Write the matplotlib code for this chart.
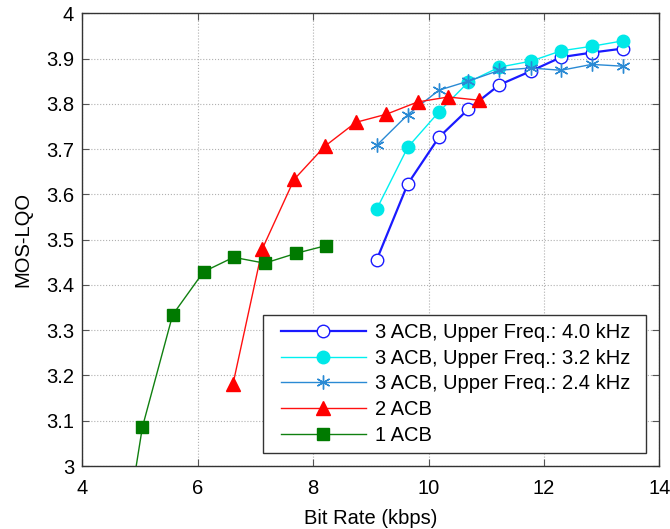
import matplotlib
matplotlib.use('Agg')
from matplotlib import pyplot as plt
import matplotlib.patches as patches

plt.rcParams['font.family'] = ['Liberation Sans', 'DejaVu Sans']

# bit rates shared by the three 3 ACB configurations
rate_3acb = [9.10, 9.64, 10.18, 10.69, 11.23, 11.77, 12.30, 12.83, 13.37]
mos_40k = [3.455, 3.623, 3.726, 3.788, 3.842, 3.872, 3.903, 3.913, 3.922]
mos_32k = [3.567, 3.704, 3.782, 3.848, 3.881, 3.894, 3.917, 3.927, 3.939]
mos_24k = [3.708, 3.776, 3.830, 3.850, 3.874, 3.879, 3.874, 3.887, 3.883]

rate_2acb = [6.61, 7.12, 7.67, 8.20, 8.74, 9.27, 9.81, 10.34, 10.87]
mos_2acb = [3.181, 3.480, 3.633, 3.706, 3.759, 3.777, 3.804, 3.815, 3.808]

rate_1acb = [4.62, 5.04, 5.565, 6.10, 6.62, 7.16, 7.71, 8.23]
mos_1acb = [2.75, 3.086, 3.334, 3.429, 3.461, 3.448, 3.470, 3.487]

labels = ['3 ACB, Upper Freq.: 4.0 kHz', '3 ACB, Upper Freq.: 3.2 kHz',
          '3 ACB, Upper Freq.: 2.4 kHz', '2 ACB', '1 ACB']

FS = 14.5
W, H = 670, 529

fig = plt.figure(figsize=(6.7, 5.29), dpi=100)
ax = fig.add_axes([0.123, 0.119, 0.861, 0.856])

asterisk = (6, 2, 0)
ax.plot(rate_3acb, mos_40k, color='#1a1aff', lw=1.6, marker='o', ms=9,
        mfc='white', mec='#1a1aff', mew=1.0, label=labels[0])
ax.plot(rate_3acb, mos_32k, color='#00f0f0', lw=1.0, marker='o', ms=9,
        mfc='#00e8e8', mec='#00e8e8', label=labels[1])
ax.plot(rate_3acb, mos_24k, color='#2a8ad4', lw=1.0, marker=asterisk, ms=10,
        mfc='#2a8ad4', mec='#2a8ad4', mew=1.0, label=labels[2])
ax.plot(rate_2acb, mos_2acb, color='#ff1010', lw=1.0, marker='^', ms=10,
        mfc='#ff0000', mec='#ff0000', label=labels[3])
ax.plot(rate_1acb, mos_1acb, color='#108010', lw=1.0, marker='s', ms=8,
        mfc='#007a00', mec='#007a00', label=labels[4])

ax.set_xlim(4, 14)
ax.set_ylim(3, 4)
ax.set_xticks(range(4, 15, 2))
ax.set_yticks([3 + 0.1 * i for i in range(11)])
ax.set_yticklabels(['3', '3.1', '3.2', '3.3', '3.4', '3.5', '3.6', '3.7',
                    '3.8', '3.9', '4'])
ax.grid(True, linestyle=':', color='#b0b0b0', lw=0.8)
ax.tick_params(direction='in', top=True, right=True, labelsize=FS,
               length=5, color='#555555')
ax.tick_params(axis='y', pad=6)
ax.tick_params(axis='x', pad=9)
for s in ax.spines.values():
    s.set_color('#333333')
    s.set_linewidth(1.0)

ax.set_xlabel('Bit Rate (kbps)', fontsize=FS, labelpad=8)
ax.set_ylabel('MOS-LQO', fontsize=FS, labelpad=10)

# legend frame drawn separately so the entries can sit inset from its edge
frame = patches.Rectangle((263 / W, 1 - 453 / H), (646 - 263) / W, (453 - 315) / H,
                          transform=fig.transFigure, facecolor='white',
                          edgecolor='#333333', lw=1.0, zorder=5)
fig.add_artist(frame)
leg = fig.legend(*ax.get_legend_handles_labels(), loc='upper left',
                 bbox_to_anchor=(281 / W, 1 - 323 / H), frameon=False,
                 fontsize=FS, handlelength=4.2, handletextpad=0.45,
                 borderpad=0, labelspacing=0.33, borderaxespad=0)
leg.set_zorder(6)

fig.savefig('out.png', dpi=100)
